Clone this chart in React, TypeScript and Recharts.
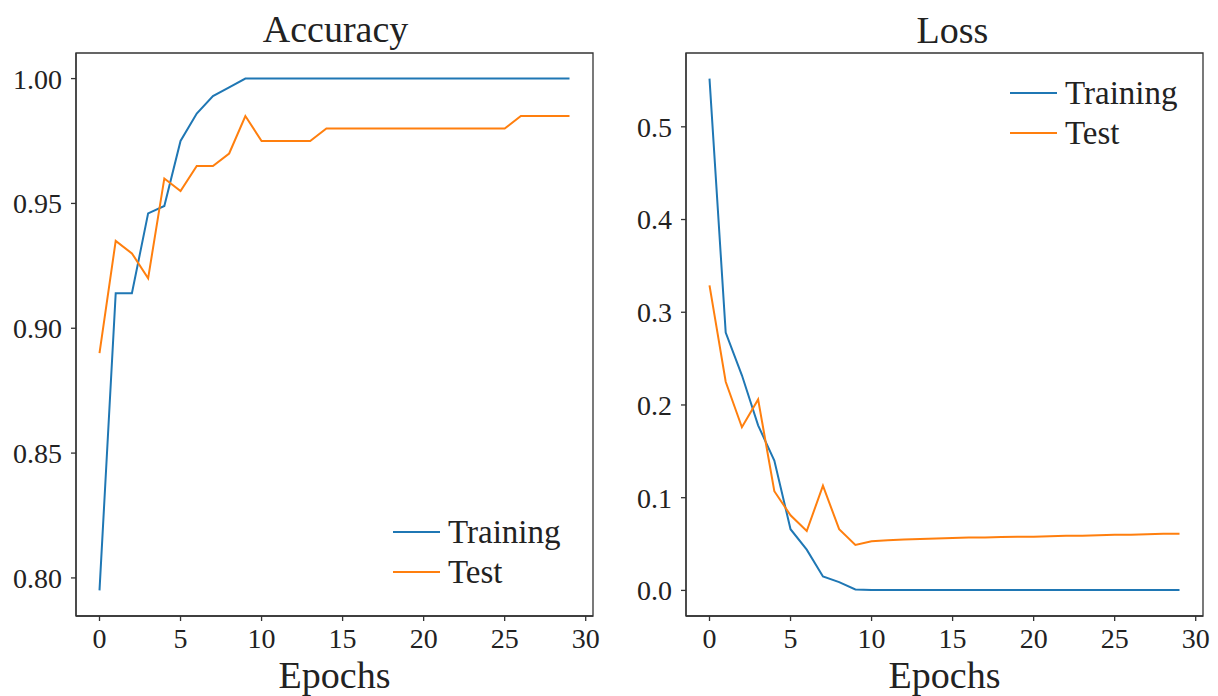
import { LineChart, Line, XAxis, YAxis, ReferenceArea, Legend } from 'recharts';

const epochs = [
  0, 1, 2, 3, 4, 5, 6, 7, 8, 9, 10, 11, 12, 13, 14,
  15, 16, 17, 18, 19, 20, 21, 22, 23, 24, 25, 26, 27, 28, 29,
];

const accTraining = [
  0.795, 0.914, 0.914, 0.946, 0.949, 0.975, 0.986, 0.993, 0.9965, 1.0,
  1.0, 1.0, 1.0, 1.0, 1.0, 1.0, 1.0, 1.0, 1.0, 1.0,
  1.0, 1.0, 1.0, 1.0, 1.0, 1.0, 1.0, 1.0, 1.0, 1.0,
];

const accTest = [
  0.89, 0.935, 0.93, 0.92, 0.96, 0.955, 0.965, 0.965, 0.97, 0.985,
  0.975, 0.975, 0.975, 0.975, 0.98, 0.98, 0.98, 0.98, 0.98, 0.98,
  0.98, 0.98, 0.98, 0.98, 0.98, 0.98, 0.985, 0.985, 0.985, 0.985,
];

const lossTraining = [
  0.552, 0.278, 0.232, 0.178, 0.14, 0.066, 0.044, 0.015, 0.009, 0.001,
  0.0005, 0.0005, 0.0005, 0.0005, 0.0005, 0.0005, 0.0005, 0.0005, 0.0005, 0.0005,
  0.0005, 0.0005, 0.0005, 0.0005, 0.0005, 0.0005, 0.0005, 0.0005, 0.0005, 0.0005,
];

const lossTest = [
  0.329, 0.225, 0.176, 0.206, 0.107, 0.081, 0.064, 0.113, 0.066, 0.049,
  0.053, 0.054, 0.055, 0.0555, 0.056, 0.0565, 0.057, 0.057, 0.0575, 0.058,
  0.058, 0.0585, 0.059, 0.059, 0.0595, 0.06, 0.06, 0.0605, 0.061, 0.061,
];

const xTicks = [0, 5, 10, 15, 20, 25, 30];
const accTicks = [0.8, 0.85, 0.9, 0.95, 1.0];
const lossTicks = [0, 0.1, 0.2, 0.3, 0.4, 0.5];

const seriesNames = ['Training', 'Test'];
const BLUE = '#1f77b4';
const ORANGE = '#ff7f0e';
const FONT = '"Liberation Serif", "DejaVu Serif", serif';
const INK = '#222';
const FRAME = '#333';

const accData = epochs.map((epoch, i) => ({ epoch, training: accTraining[i], test: accTest[i] }));
const lossData = epochs.map((epoch, i) => ({ epoch, training: lossTraining[i], test: lossTest[i] }));

// matplotlib-style 5% margins around the data
const X_DOMAIN: [number, number] = [-1.45, 30.45];
const ACC_DOMAIN: [number, number] = [0.78475, 1.01025];
const LOSS_DOMAIN: [number, number] = [-0.0276, 0.5796];

const LegendBox = () => (
  <div style={{ fontFamily: FONT, fontSize: 33, color: INK }}>
    {seriesNames.map((name, i) => (
      <div key={name} style={{ display: 'flex', alignItems: 'center', height: 40 }}>
        <div style={{ width: 47, height: 2, background: i === 0 ? BLUE : ORANGE, marginRight: 8 }} />
        <span style={{ lineHeight: '40px' }}>{name}</span>
      </div>
    ))}
  </div>
);

interface PanelProps {
  title: string;
  titleShift: { x: number; y: number };
  data: { epoch: number; training: number; test: number }[];
  yDomain: [number, number];
  yTicks: number[];
  digits: number;
  legendPos: { left: number; top: number };
  left: number;
  width: number;
}

function Panel({ title, titleShift, data, yDomain, yTicks, digits, legendPos, left, width }: PanelProps) {
  const plotLeft = 76;
  const plotWidth = 517;
  return (
    <div style={{ position: 'absolute', left, top: 0, width, height: 696 }}>
      <div
        style={{
          position: 'absolute',
          left: plotLeft + titleShift.x,
          width: plotWidth,
          top: 10 + titleShift.y,
          textAlign: 'center',
          fontFamily: FONT,
          fontSize: 38,
          lineHeight: 1,
          color: INK,
        }}
      >
        {title}
      </div>
      <LineChart
        width={width}
        height={696}
        data={data}
        margin={{ top: 53, right: width - plotLeft - plotWidth, left: 0, bottom: 0 }}
      >
        <XAxis
          dataKey="epoch"
          type="number"
          domain={X_DOMAIN}
          ticks={xTicks}
          height={80}
          tickSize={5}
          tickMargin={7}
          axisLine={{ stroke: FRAME, strokeWidth: 1.3 }}
          tickLine={{ stroke: FRAME, strokeWidth: 1.3 }}
          tick={{ fill: INK, fontSize: 28, fontFamily: FONT }}
          label={{ value: 'Epochs', position: 'insideBottom', offset: 8, fill: INK, fontSize: 38, fontFamily: FONT }}
        />
        <YAxis
          type="number"
          domain={yDomain}
          ticks={yTicks}
          width={plotLeft}
          tickSize={5}
          tickMargin={9}
          axisLine={{ stroke: FRAME, strokeWidth: 1.3 }}
          tickLine={{ stroke: FRAME, strokeWidth: 1.3 }}
          tick={{ fill: INK, fontSize: 28, fontFamily: FONT }}
          tickFormatter={(v: number) => v.toFixed(digits)}
        />
        <ReferenceArea
          x1={X_DOMAIN[0]}
          x2={X_DOMAIN[1]}
          y1={yDomain[0]}
          y2={yDomain[1]}
          fill="none"
          stroke={FRAME}
          strokeWidth={1.3}
          ifOverflow="visible"
        />
        <Line type="linear" dataKey="training" name="Training" stroke={BLUE} strokeWidth={2} dot={false} isAnimationActive={false} />
        <Line type="linear" dataKey="test" name="Test" stroke={ORANGE} strokeWidth={2} dot={false} isAnimationActive={false} />
        <Legend
          layout="horizontal"
          verticalAlign="middle"
          align="center"
          content={() => <LegendBox />}
          wrapperStyle={{ left: legendPos.left, top: legendPos.top, width: 'auto', height: 'auto' }}
        />
      </LineChart>
    </div>
  );
}

export default function App() {
  return (
    <div style={{ position: 'absolute', left: 0, top: 0, width: 1218, height: 696, background: '#fff' }}>
      <Panel
        title="Accuracy"
        titleShift={{ x: 1, y: 0 }}
        data={accData}
        yDomain={ACC_DOMAIN}
        yTicks={accTicks}
        digits={2}
        legendPos={{ left: 393, top: 512 }}
        left={0}
        width={610}
      />
      <Panel
        title="Loss"
        titleShift={{ x: 8, y: 1 }}
        data={lossData}
        yDomain={LOSS_DOMAIN}
        yTicks={lossTicks}
        digits={1}
        legendPos={{ left: 400, top: 73 }}
        left={610}
        width={608}
      />
    </div>
  );
}
